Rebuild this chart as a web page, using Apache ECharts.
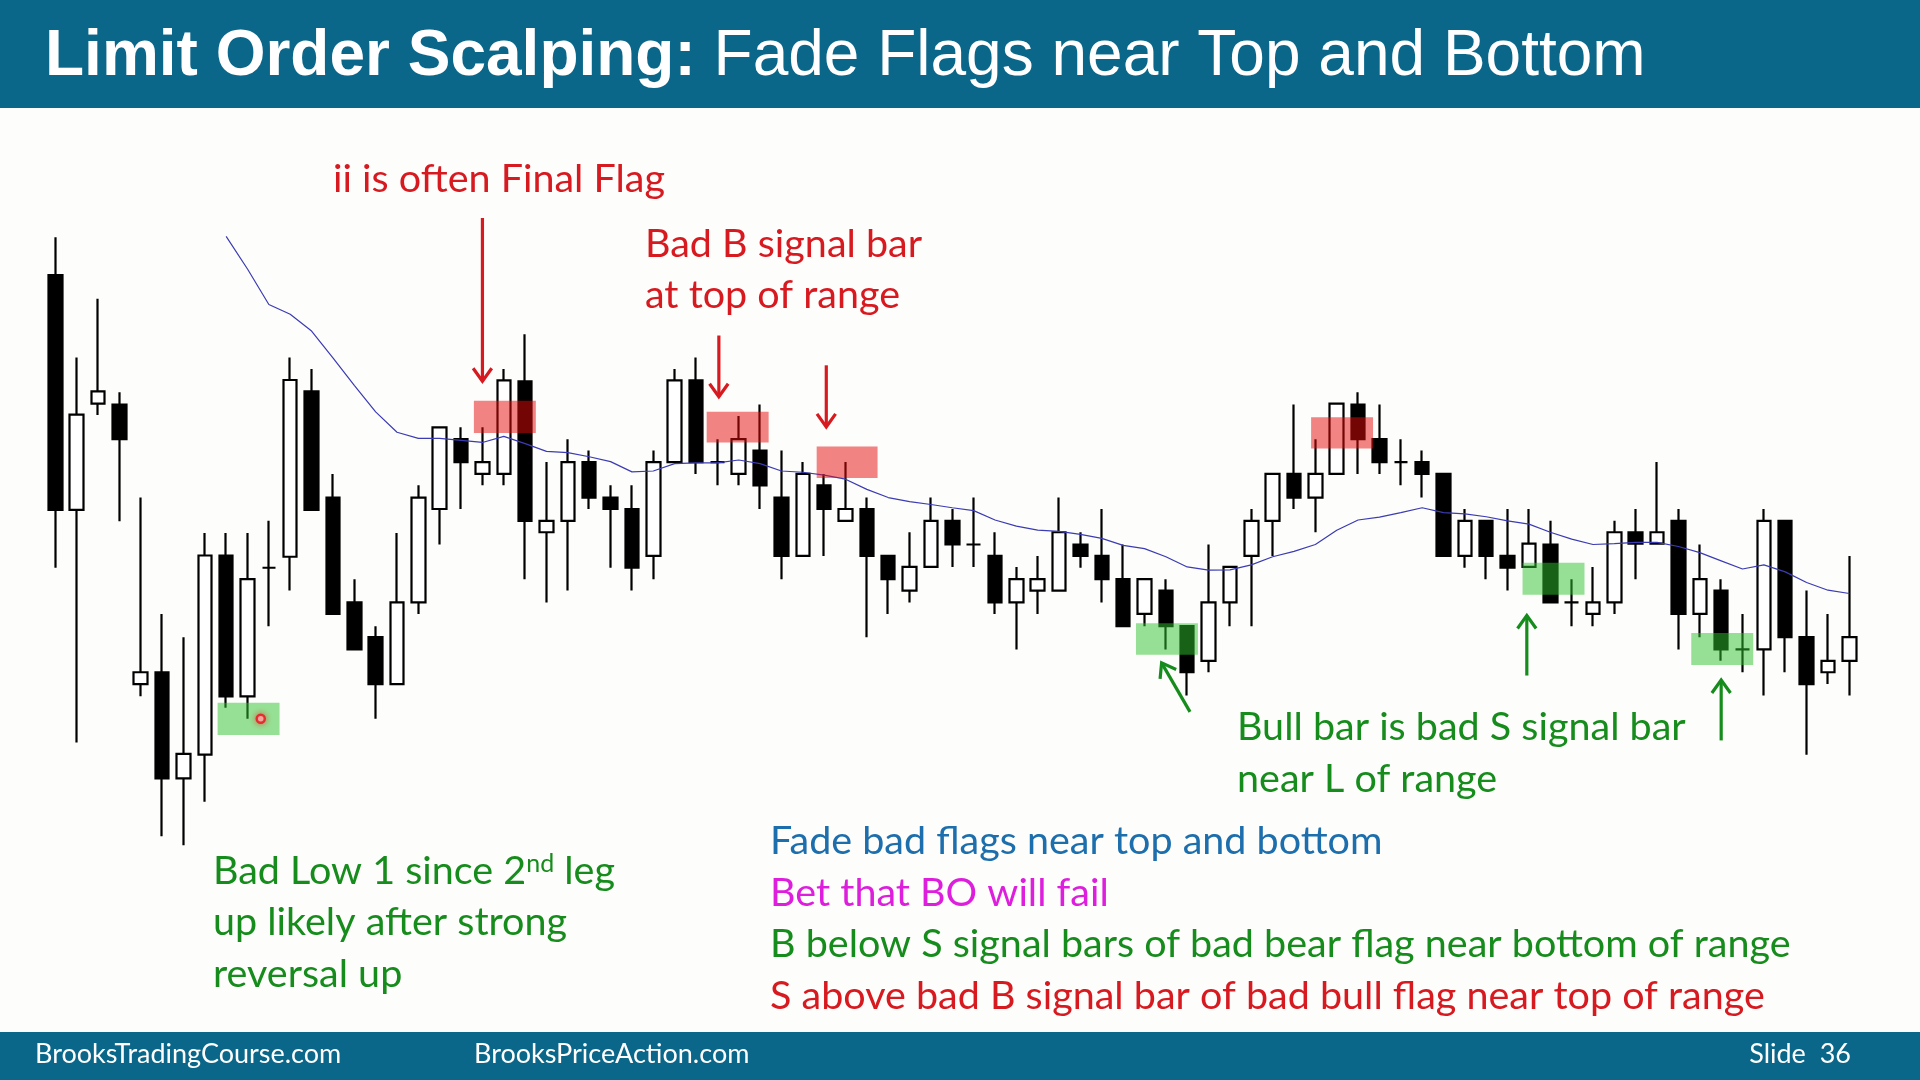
<!DOCTYPE html>
<html>
<head>
<meta charset="utf-8">
<script src="https://cdn.jsdelivr.net/npm/echarts@6/dist/echarts.min.js"></script>
<style>
html,body{margin:0;padding:0;background:#fdfdfb;}
#chart{width:1920px;height:1080px;}
</style>
</head>
<body>
<div id="chart"></div>
<script>
// ---- Data ----
const openP  = [146.5,89,115,114.8,46.3,49.2,23.2,29,77.8,43.3,
  74.8,77.5,118,92,66.3,57.8,46.3,66.3,89.2,106.3,
  97.8,97.8,120.5,83.5,86.3,100.7,92,89.2,77.7,100.7,
  120.7,100.7,97.8,103.5,92,77.7,95,86.3,89.2,77.7,
  69.2,75,86.3,80.5,77.7,66.3,69.2,69.2,80.5,77.7,
  72,63.5,69.2,60.5,52,66.3,77.7,86.3,97.8,92,
  97.8,114.8,106.3,100.7,100.7,97.8,77.7,86.3,77.7,75,
  80.5,66.3,63.5,66.3,83.5,80.7,86.3,63.5,69.2,54.8,
  54.8,86.3,57.8,49.2,52];
const closeP = [89,112.3,118,106.3,49.2,23.2,29.2,77.8,43.3,72,
  74.8,120.8,89,63.5,54.8,46.3,66.3,92,109.2,100.7,
  100.7,120.7,86.3,86.3,100.7,92,89.2,74.8,100.7,120.7,
  100.7,100.7,106.3,95,77.7,97.8,89.2,89.2,77.7,72,
  75,86.3,80.5,80.5,66.3,72,72,83.5,77.7,72,
  60.5,72,60.5,49.2,66.3,75,86.3,97.8,92,97.8,
  115,106.3,100.7,100.7,97.8,77.7,86.3,77.7,74.8,80.7,
  66.3,66.3,66.3,83.5,80.7,83.5,63.5,72,54.8,54.8,
  86.3,57.8,46.3,52,57.8];
const lowP   = [74.8,32,112.2,86.2,43.3,9,6.8,17.5,40.5,37.8,
  60.5,69.2,89,63.5,54.8,37.8,46.3,63.5,80.5,89.2,
  95,95,72,66.3,69.2,89.2,74.8,69.2,72,100.7,
  97.8,95,95,89.2,72,77.7,77.7,86.3,57.8,63.5,
  66.3,75,75,75,63.5,54.8,63.5,69.2,74.8,66.3,
  60.5,60.5,54.8,43.5,49.2,60.5,60.5,77.7,89.2,83.5,
  97.8,97.8,97.8,95,92,77.7,74.8,72,69.2,75,
  66.3,60.5,60.5,63.5,72,80.7,54.8,57.8,52,49.2,
  43.5,49.2,29,46.3,43.5];
const highP  = [155.8,126.3,140.7,117.8,92,63.5,57.8,83.3,83.3,83.3,
  86.3,126.3,123.5,97.8,72,60.5,83.3,95,109.2,109.2,
  109.2,123.5,132,100.7,106.3,103.5,95,95,103.5,123.5,
  126.3,106.3,112,114.8,103.5,100.7,97.8,100.7,92,77.7,
  83.5,92,89.2,92,83.5,75,77.7,92,83.5,89.2,
  80.5,72,72,60.5,80.5,75,89.2,97.8,114.8,106.3,
  115,117.8,114.8,106.3,103.5,97.8,89.2,86.3,89.2,89.2,
  86.3,72,75,86.3,89.2,100.7,89.2,80.5,72,63.5,
  89.2,86.3,69.2,63.5,77.7];
const maLine = [null,null,null,null,null,null,null,null,
  156,148,139.3,136.9,132.8,126.2,119.5,113,108,106.5,106.5,106,105.5,107,105.2,103.3,103,102,100.8,98.3,98.5,100.3,
  100.5,100.5,101.2,100.3,98.5,98.2,97.5,96.5,94,92,91,90.3,89.5,88.8,86.5,85,84,83.7,83,82,
  80.3,79.5,77.5,75,74.2,74.3,75.5,77.5,78.8,80.5,84,86.5,87.2,88.3,89.5,88.3,88,87.3,86.3,85.5,
  83.5,81.8,80.5,80.7,81,81,80,78.5,76.5,74.5,75.5,73.8,71.2,69.3,68.5];
const barLabels = openP.map((_, i) => String(i + 1));
// shaded zones: [fromBar, toBar, low, high, kind]
const zones = [
  [7.6, 10.5, 33.8, 41.7, 'g'],
  [19.6, 22.5, 107.8, 115.7, 'r'],
  [30.5, 33.4, 105.5, 113, 'r'],
  [35.65, 38.5, 96.8, 104.5, 'r'],
  [50.6, 53.5, 53.5, 61.2, 'g'],
  [58.8, 61.7, 104, 111.7, 'r'],
  [68.7, 71.6, 68.2, 76, 'g'],
  [76.6, 79.5, 51, 58.8, 'g']
];
// arrows: [tailBar, tailPrice, tipBar, tipPrice, kind]
const arrows = [
  [20.0, 160.5, 20.0, 120.5, 'r'],
  [31.07, 131.7, 31.07, 116.7, 'r'],
  [36.1, 124.4, 36.1, 109.3, 'r'],
  [53.13, 39.5, 51.8, 51.5, 'g'],
  [68.9, 48.4, 68.9, 63.1, 'g'],
  [78.0, 32.5, 78.0, 47.3, 'g']
];
const cursorDot = [[9.62, 37.8]];

// ---- Styles ----
const RED = '#d71a20', GREEN = '#168c1c', BLUE = '#1d6ead', MAG = '#dd1fdd', HEAD = '#0a6789';
const TF = 'Lato';
const TS = 39.5;

const chart = echarts.init(document.getElementById('chart'), null, {renderer: 'canvas'});
const candleData = openP.map((o, i) => [o, closeP[i], lowP[i], highP[i]]);
const kindIdx = k => (k === 'r' ? 0 : 1);

function txt(x, y, s, color, extra) {
  return Object.assign({
    type: 'text', x: x, y: y, z: 50,
    style: {text: s, fill: color, font: TS + 'px ' + TF, verticalAlign: 'middle', align: 'left'}
  }, extra || {});
}

const option = {
  backgroundColor: '#fdfdfb',
  animation: false,
  grid: {left: 44.6, top: 220, width: 1815.4, height: 653.07, containLabel: false},
  xAxis: [
    {type: 'category', data: barLabels, boundaryGap: true, show: false},
    {type: 'value', min: -0.5, max: 84.5, show: false}
  ],
  yAxis: [{type: 'value', min: 0, max: 160, show: false}],
  series: [
    {
      type: 'candlestick', xAxisIndex: 0, yAxisIndex: 0, data: candleData, barWidth: 14, z: 3,
      itemStyle: {color: '#ffffff', color0: '#000000', borderColor: '#000000', borderColor0: '#000000', borderColorDoji: '#000000', borderWidth: 2.2}
    },
    {
      type: 'line', xAxisIndex: 0, yAxisIndex: 0, data: maLine, symbol: 'none', z: 4,
      lineStyle: {color: '#3b3bb3', width: 1.2}
    },
    {
      type: 'custom', xAxisIndex: 1, yAxisIndex: 0, z: 6,
      data: zones.map(z => [z[0], z[1], z[2], z[3], kindIdx(z[4])]),
      renderItem: function (params, api) {
        const a = api.coord([api.value(0), api.value(3)]);
        const b = api.coord([api.value(1), api.value(2)]);
        return {
          type: 'rect',
          shape: {x: a[0], y: a[1], width: b[0] - a[0], height: b[1] - a[1]},
          style: {fill: api.value(4) === 0 ? 'rgba(230,10,10,0.5)' : 'rgba(45,195,45,0.5)'}
        };
      }
    },
    {
      type: 'custom', xAxisIndex: 1, yAxisIndex: 0, z: 7,
      data: arrows.map(a => [a[0], a[1], a[2], a[3], kindIdx(a[4])]),
      renderItem: function (params, api) {
        const t = api.coord([api.value(0), api.value(1)]);
        const h = api.coord([api.value(2), api.value(3)]);
        const col = api.value(4) === 0 ? RED : GREEN;
        const dx = h[0] - t[0], dy = h[1] - t[1];
        const len = Math.sqrt(dx * dx + dy * dy);
        const ux = dx / len, uy = dy / len;
        const L = 16, ang = 0.62;
        const c = Math.cos(ang), s = Math.sin(ang);
        const l1 = [h[0] - L * (ux * c - uy * s), h[1] - L * (uy * c + ux * s)];
        const l2 = [h[0] - L * (ux * c + uy * s), h[1] - L * (uy * c - ux * s)];
        return {
          type: 'group',
          children: [
            {type: 'line', shape: {x1: t[0], y1: t[1], x2: h[0], y2: h[1]}, style: {stroke: col, lineWidth: 3.2}},
            {type: 'polyline', shape: {points: [l1, h, l2]}, style: {stroke: col, lineWidth: 3.2, fill: null, lineJoin: 'miter'}}
          ]
        };
      }
    },
    {
      type: 'scatter', xAxisIndex: 1, yAxisIndex: 0, z: 8, data: cursorDot, symbolSize: 8,
      itemStyle: {color: '#ffd8d8', borderColor: '#e8101a', borderWidth: 2.5, shadowBlur: 6, shadowColor: 'rgba(255,0,0,0.6)'}
    }
  ],
  graphic: [
    {type: 'rect', shape: {x: 0, y: 0, width: 1920, height: 108}, style: {fill: HEAD}, z: 1},
    {type: 'rect', shape: {x: 0, y: 1032, width: 1920, height: 48}, style: {fill: HEAD}, z: 1},
    {
      type: 'text', x: 45, y: 57, z: 50,
      style: {
        text: '{b|Limit Order Scalping:}{n| Fade Flags near Top and Bottom}',
        verticalAlign: 'middle', align: 'left',
        rich: {
          b: {fill: '#ffffff', fontSize: 64, fontWeight: 'bold', fontFamily: 'Liberation Sans'},
          n: {fill: '#ffffff', fontSize: 64, fontWeight: 'normal', fontFamily: 'Liberation Sans'}
        }
      }
    },
    {type: 'text', x: 35, y: 1054, z: 50, style: {text: 'BrooksTradingCourse.com', fill: '#ffffff', font: '27px ' + TF, verticalAlign: 'middle'}},
    {type: 'text', x: 474, y: 1054, z: 50, style: {text: 'BrooksPriceAction.com', fill: '#ffffff', font: '27px ' + TF, verticalAlign: 'middle'}},
    {type: 'text', x: 1851, y: 1054, z: 50, style: {text: 'Slide  36', fill: '#ffffff', font: '27px ' + TF, verticalAlign: 'middle', align: 'right'}},
    txt(333, 179, 'ii is often Final Flag', RED),
    txt(645, 244, 'Bad B signal bar', RED),
    txt(645, 295, 'at top of range', RED),
    txt(1237, 727, 'Bull bar is bad S signal bar', GREEN),
    txt(1237, 779, 'near L of range', GREEN),
    {
      type: 'text', x: 213, y: 871, z: 50,
      style: {
        text: '{a|Bad Low 1 since 2}{s|nd}{a| leg}', verticalAlign: 'middle', align: 'left',
        rich: {
          a: {fill: GREEN, fontSize: TS, fontFamily: TF},
          s: {fill: GREEN, fontSize: 25, fontFamily: TF, verticalAlign: 'top'}
        }
      }
    },
    txt(213, 922, 'up likely after strong', GREEN),
    txt(213, 974, 'reversal up', GREEN),
    txt(770, 841, 'Fade bad flags near top and bottom', BLUE),
    txt(770, 893, 'Bet that BO will fail', MAG),
    txt(770, 944, 'B below S signal bars of bad bear flag near bottom of range', GREEN),
    txt(770, 996, 'S above bad B signal bar of bad bull flag near top of range', RED)
  ]
};
chart.setOption(option);
</script>
</body>
</html>
